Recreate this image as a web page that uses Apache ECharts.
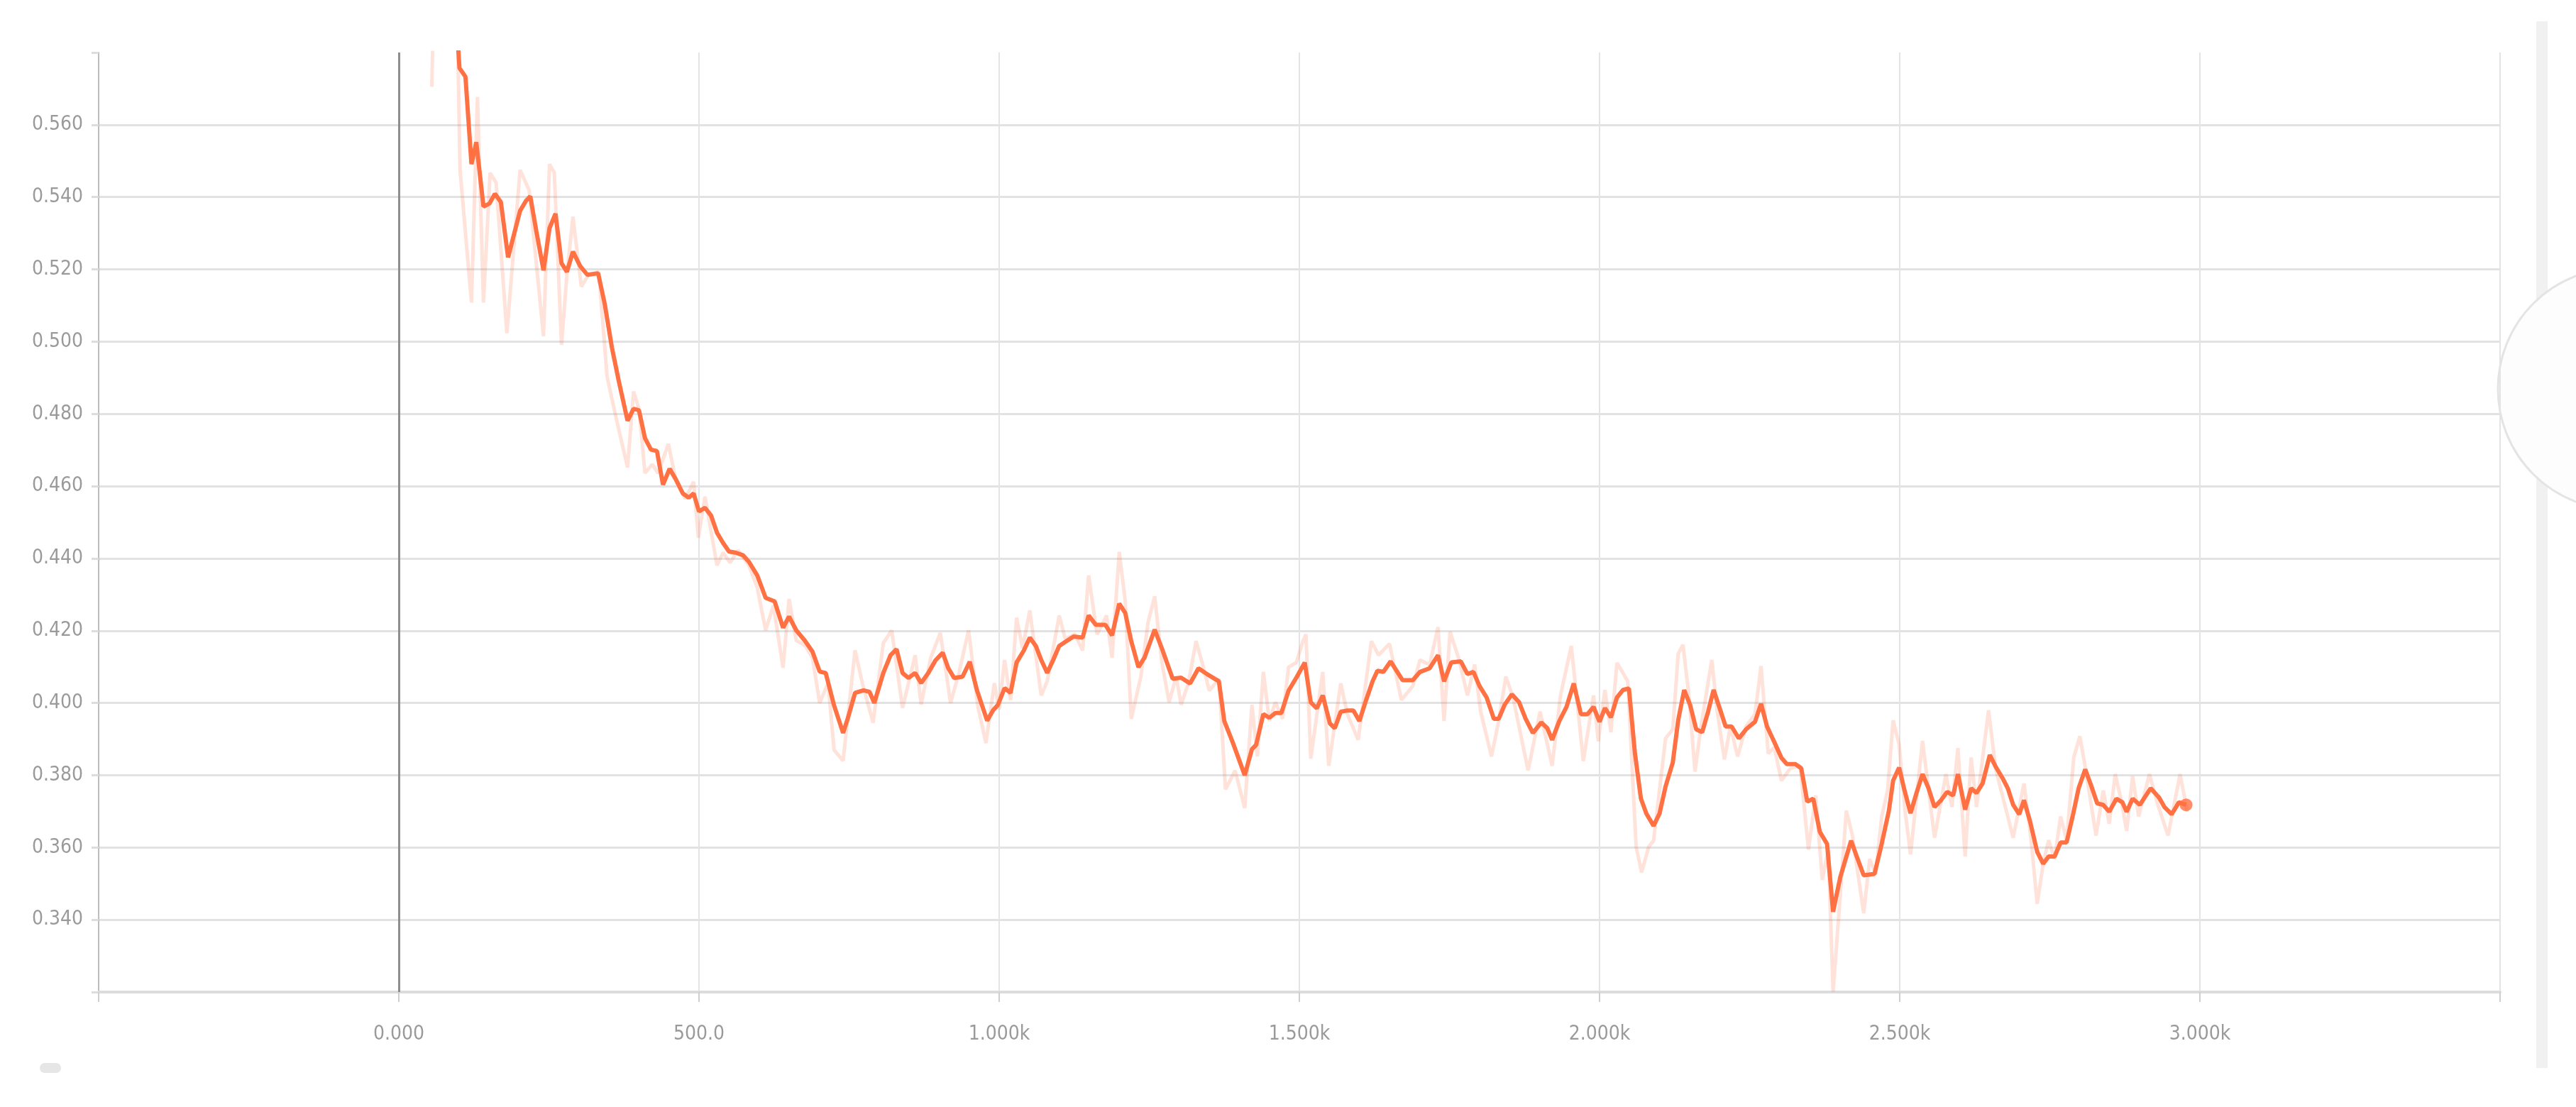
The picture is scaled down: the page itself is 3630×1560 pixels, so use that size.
<!DOCTYPE html>
<html>
<head>
<meta charset="utf-8">
<script src="https://cdn.jsdelivr.net/npm/echarts@6/dist/echarts.min.js"></script>
<style>
  html, body { margin: 0; padding: 0; background: #fff; }
  #chart { width: 3630px; height: 1560px; }
</style>
</head>
<body>
<div id="chart"></div>
<script>
// smoothed curve (dark orange)
const smoothSteps = [92, 101, 111, 121, 129, 141, 151, 160, 170, 182, 192, 202, 212, 219, 229, 241, 251, 261, 271, 280,
  290, 302, 314, 332, 343, 355, 367, 381, 391, 400, 410, 420, 430, 440, 451, 461, 473, 483, 491, 500,
  510, 520, 530, 540, 550, 561, 573, 583, 597, 611, 626, 640, 650, 662, 676, 689, 701, 711, 725, 740,
  748, 760, 774, 784, 792, 807, 819, 829, 839, 849, 860, 870, 882, 894, 906, 915, 925, 939, 951, 963,
  980, 990, 998, 1009, 1019, 1029, 1041, 1051, 1061, 1070, 1080, 1090, 1100, 1112, 1124, 1139, 1149, 1161, 1177, 1188,
  1200, 1210, 1220, 1232, 1242, 1259, 1271, 1289, 1303, 1318, 1332, 1346, 1366, 1375, 1389, 1409, 1421, 1428, 1440, 1450,
  1460, 1470, 1482, 1495, 1509, 1519, 1529, 1539, 1551, 1559, 1569, 1580, 1590, 1600, 1610, 1622, 1630, 1640, 1652, 1662,
  1672, 1689, 1701, 1717, 1731, 1741, 1753, 1769, 1780, 1790, 1800, 1812, 1824, 1832, 1842, 1854, 1866, 1877, 1889, 1903,
  1913, 1921, 1933, 1945, 1957, 1969, 1980, 1990, 2000, 2009, 2019, 2029, 2039, 2049, 2059, 2069, 2078, 2090, 2100, 2110,
  2122, 2131, 2141, 2151, 2161, 2171, 2181, 2190, 2200, 2210, 2220, 2232, 2244, 2259, 2269, 2279, 2293, 2303, 2312, 2326,
  2336, 2346, 2356, 2367, 2379, 2389, 2401, 2419, 2428, 2440, 2458, 2470, 2482, 2489, 2499, 2508, 2518, 2528, 2538, 2548,
  2558, 2569, 2579, 2589, 2597, 2609, 2619, 2628, 2638, 2650, 2660, 2672, 2680, 2689, 2699, 2707, 2717, 2729, 2739, 2748,
  2758, 2768, 2778, 2788, 2798, 2809, 2819, 2829, 2839, 2849, 2861, 2871, 2878, 2888, 2900, 2918, 2932, 2941, 2953, 2965,
  2977];
const smoothValues = [0.600, 0.5757, 0.5733, 0.5491, 0.5552, 0.5374, 0.5382, 0.5409, 0.5386, 0.5233, 0.5298, 0.5362, 0.5390, 0.5402, 0.5306, 0.5197, 0.5314, 0.5354, 0.5217, 0.5193,
  0.5249, 0.5209, 0.5185, 0.5189, 0.5104, 0.4983, 0.4886, 0.4781, 0.4814, 0.4810, 0.4733, 0.4701, 0.4697, 0.4604, 0.4648, 0.4620, 0.4580, 0.4568, 0.4580, 0.4530,
  0.4540, 0.4519, 0.4471, 0.4443, 0.4419, 0.4416, 0.4409, 0.4391, 0.4353, 0.4291, 0.4281, 0.4208, 0.4239, 0.4201, 0.4173, 0.4142, 0.4087, 0.4083, 0.3993, 0.3917,
  0.3958, 0.4028, 0.4035, 0.4031, 0.4000, 0.4083, 0.4132, 0.4149, 0.4083, 0.4069, 0.4083, 0.4055, 0.4083, 0.4118, 0.4139, 0.4097, 0.4069, 0.4073, 0.4114, 0.4035,
  0.3951, 0.3980, 0.3995, 0.4041, 0.4028, 0.4112, 0.4145, 0.4181, 0.4158, 0.4119, 0.4083, 0.4119, 0.4158, 0.4171, 0.4184, 0.4181, 0.4242, 0.4216, 0.4216, 0.4187,
  0.4275, 0.4249, 0.4171, 0.4099, 0.4125, 0.4203, 0.4151, 0.4067, 0.4070, 0.4054, 0.4096, 0.4080, 0.4060, 0.3950, 0.3891, 0.3800, 0.3872, 0.3884, 0.3969, 0.3959,
  0.3972, 0.3972, 0.4034, 0.4070, 0.4112, 0.4002, 0.3985, 0.4021, 0.3943, 0.3930, 0.3976, 0.3979, 0.3979, 0.3950, 0.4002, 0.4060, 0.4089, 0.4086, 0.4115, 0.4089,
  0.4063, 0.4063, 0.4086, 0.4096, 0.4132, 0.4060, 0.4112, 0.4115, 0.4080, 0.4086, 0.4047, 0.4015, 0.3956, 0.3956, 0.3995, 0.4024, 0.4002, 0.3956, 0.3917, 0.3946,
  0.3930, 0.3898, 0.3950, 0.3989, 0.4054, 0.3969, 0.3969, 0.3989, 0.3948, 0.3986, 0.3960, 0.4015, 0.4036, 0.4040, 0.3860, 0.3735, 0.3694, 0.3660, 0.3694, 0.3769,
  0.3835, 0.3952, 0.4036, 0.3994, 0.3927, 0.3919, 0.3977, 0.4036, 0.3986, 0.3935, 0.3935, 0.3902, 0.3927, 0.3948, 0.3998, 0.3935, 0.3885, 0.3848, 0.3831, 0.3831,
  0.3819, 0.3727, 0.3735, 0.3643, 0.3610, 0.3422, 0.3518, 0.3619, 0.3577, 0.3523, 0.3527, 0.3610, 0.3702, 0.3785, 0.3821, 0.3758, 0.3695, 0.3751, 0.3803, 0.3764,
  0.3712, 0.3731, 0.3754, 0.3744, 0.3803, 0.3705, 0.3764, 0.3751, 0.3777, 0.3856, 0.3823, 0.3790, 0.3764, 0.3718, 0.3692, 0.3731, 0.3673, 0.3588, 0.3555, 0.3575,
  0.3575, 0.3614, 0.3614, 0.3686, 0.3764, 0.3816, 0.3771, 0.3722, 0.3718, 0.3699, 0.3735, 0.3725, 0.3699, 0.3735, 0.3718, 0.3764, 0.3738, 0.3712, 0.3692, 0.3725,
  0.3718];

// raw curve (faint)
const rawSteps = [55, 60, 95, 102, 121, 131, 141, 152, 162, 180, 202, 217, 241, 251, 259, 271, 280, 290, 304, 316,
  333, 347, 363, 381, 391, 400, 410, 422, 432, 449, 461, 477, 491, 499, 510, 530, 540, 552, 565, 583,
  597, 611, 624, 640, 650, 662, 677, 689, 701, 715, 725, 740, 760, 772, 790, 807, 821, 839, 860, 870,
  886, 902, 919, 933, 949, 965, 978, 992, 1000, 1009, 1019, 1029, 1039, 1051, 1070, 1080, 1100, 1110, 1126, 1139,
  1149, 1163, 1179, 1188, 1200, 1210, 1220, 1236, 1248, 1259, 1271, 1283, 1295, 1303, 1315, 1328, 1338, 1350, 1366, 1377,
  1393, 1409, 1421, 1430, 1440, 1450, 1460, 1472, 1482, 1495, 1506, 1511, 1519, 1539, 1549, 1569, 1580, 1598, 1620, 1632,
  1650, 1670, 1689, 1701, 1717, 1731, 1741, 1751, 1765, 1780, 1792, 1802, 1820, 1832, 1844, 1856, 1881, 1901, 1921, 1935,
  1953, 1973, 1990, 1998, 2009, 2019, 2029, 2047, 2061, 2070, 2082, 2090, 2110, 2122, 2131, 2139, 2149, 2159, 2169, 2187,
  2196, 2208, 2218, 2230, 2244, 2259, 2269, 2281, 2291, 2303, 2318, 2334, 2348, 2360, 2371, 2381, 2389, 2401, 2411, 2421,
  2440, 2450, 2460, 2470, 2480, 2489, 2499, 2509, 2518, 2538, 2558, 2577, 2587, 2597, 2609, 2619, 2628, 2648, 2660, 2672,
  2689, 2707, 2719, 2729, 2739, 2748, 2758, 2768, 2778, 2790, 2800, 2809, 2827, 2839, 2849, 2859, 2869, 2878, 2888, 2898,
  2916, 2930, 2947, 2967, 2979];
const rawValues = [0.5705, 0.610, 0.610, 0.5475, 0.5108, 0.5677, 0.5108, 0.5467, 0.5440, 0.5023, 0.5475, 0.5419, 0.5015, 0.5491, 0.5467, 0.4991, 0.5185, 0.5346, 0.5152, 0.5185,
  0.5193, 0.4902, 0.4781, 0.4652, 0.4862, 0.4814, 0.4636, 0.4660, 0.4636, 0.4717, 0.4620, 0.4565, 0.4612, 0.4457, 0.4571, 0.4381, 0.4416, 0.4388, 0.4423, 0.4381,
  0.4319, 0.4201, 0.4270, 0.4097, 0.4288, 0.4173, 0.4159, 0.4125, 0.4000, 0.4055, 0.3870, 0.3840, 0.4146, 0.4055, 0.3945, 0.4166, 0.4201, 0.3986, 0.4132, 0.3996,
  0.4125, 0.4194, 0.4000, 0.4083, 0.4201, 0.3986, 0.3889, 0.4055, 0.3982, 0.4119, 0.4008, 0.4236, 0.4151, 0.4256, 0.4021, 0.4060, 0.4242, 0.4177, 0.4190, 0.4145,
  0.4353, 0.4190, 0.4242, 0.4125, 0.4418, 0.4282, 0.3956, 0.4073, 0.4223, 0.4295, 0.4112, 0.4002, 0.4073, 0.3995, 0.4054, 0.4171, 0.4112, 0.4034, 0.4067, 0.3761,
  0.3813, 0.3709, 0.3995, 0.3852, 0.4086, 0.3950, 0.4002, 0.3956, 0.4099, 0.4112, 0.4171, 0.4190, 0.3846, 0.4086, 0.3826, 0.4054, 0.3969, 0.3898, 0.4171, 0.4132,
  0.4164, 0.4008, 0.4047, 0.4119, 0.4106, 0.4210, 0.3950, 0.4197, 0.4125, 0.4021, 0.4106, 0.3976, 0.3852, 0.3950, 0.4073, 0.4015, 0.3813, 0.3976, 0.3826, 0.4021,
  0.4158, 0.3839, 0.4021, 0.3894, 0.4036, 0.3919, 0.4111, 0.4060, 0.3602, 0.3531, 0.3602, 0.3619, 0.3902, 0.3927, 0.4136, 0.4161, 0.4019, 0.3810, 0.3935, 0.4119,
  0.3977, 0.3844, 0.3935, 0.3852, 0.3935, 0.3969, 0.4102, 0.3860, 0.3877, 0.3785, 0.3819, 0.3827, 0.3594, 0.3744, 0.3510, 0.3594, 0.3201, 0.3468, 0.3702, 0.3635,
  0.3418, 0.3568, 0.3527, 0.3685, 0.3760, 0.3952, 0.3885, 0.3700, 0.3581, 0.3895, 0.3627, 0.3803, 0.3712, 0.3875, 0.3575, 0.3849, 0.3712, 0.3980, 0.3816, 0.3738,
  0.3627, 0.3777, 0.3620, 0.3444, 0.3555, 0.3620, 0.3568, 0.3686, 0.3620, 0.3849, 0.3908, 0.3823, 0.3633, 0.3758, 0.3666, 0.3803, 0.3731, 0.3646, 0.3797, 0.3686,
  0.3803, 0.3718, 0.3633, 0.3803, 0.3699];

// tick labels
const xTickValues = [0, 500, 1000, 1500, 2000, 2500, 3000];
const xTickLabels = ['0.000', '500.0', '1.000k', '1.500k', '2.000k', '2.500k', '3.000k'];
const yTickValues = [0.34, 0.36, 0.38, 0.40, 0.42, 0.44, 0.46, 0.48, 0.50, 0.52, 0.54, 0.56];
const yTickLabels = ['0.340', '0.360', '0.380', '0.400', '0.420', '0.440', '0.460', '0.480', '0.500', '0.520', '0.540', '0.560'];

const zip = (xs, ys) => xs.map((x, i) => [x, ys[i]]);
const pick = (vals, labels) => v => {
  const i = vals.findIndex(t => Math.abs(t - v) < 1e-6);
  return i < 0 ? '' : labels[i];
};

const labelFont = '"Liberation Sans Narrow", "DejaVu Sans Condensed", Roboto, sans-serif';
const orange = '#ff7043';

const chart = echarts.init(document.getElementById('chart'));
chart.setOption({
  animation: false,
  backgroundColor: '#fff',
  grid: { left: 139, right: 107, top: 74, bottom: 162 },
  xAxis: {
    type: 'value', min: -500, max: 3500, interval: 500,
    axisLine: { show: true, lineStyle: { color: '#dcdcdc', width: 4 } },
    axisTick: { show: true, length: 14, lineStyle: { color: '#cfcfcf', width: 2 } },
    axisLabel: { margin: 46, fontSize: 28, color: '#9a9a9a', fontFamily: labelFont, formatter: pick(xTickValues, xTickLabels) },
    splitLine: { show: true, lineStyle: { color: '#e4e4e4', width: 2 } }
  },
  yAxis: {
    type: 'value', min: 0.32, max: 0.58, interval: 0.02,
    axisLine: { show: true, onZero: false, lineStyle: { color: '#bdbdbd', width: 2 } },
    axisTick: { show: true, length: 10, lineStyle: { color: '#dddddd', width: 3 } },
    axisLabel: { margin: 22, fontSize: 28, color: '#9a9a9a', fontFamily: labelFont, formatter: pick(yTickValues, yTickLabels) },
    splitLine: { show: true, showMaxLine: false, lineStyle: { color: '#e2e2e2', width: 3 } }
  },
  series: [
    {
      name: 'raw', type: 'line', data: zip(rawSteps, rawValues),
      symbol: 'none', clip: true, silent: true,
      lineStyle: { color: orange, width: 5, opacity: 0.2 },
      markLine: {
        silent: true, symbol: ['none', 'none'], label: { show: false },
        lineStyle: { color: '#8e8e8e', width: 3, type: 'solid' },
        data: [{ xAxis: 0 }]
      }
    },
    {
      name: 'smoothed', type: 'line', data: zip(smoothSteps, smoothValues),
      symbol: 'none', clip: true, silent: true,
      lineStyle: { color: orange, width: 6 }
    },
    {
      name: 'last', type: 'scatter', silent: true,
      data: [[smoothSteps[smoothSteps.length - 1], smoothValues[smoothValues.length - 1]]],
      symbol: 'circle', symbolSize: 18, itemStyle: { color: orange }
    }
  ],
  graphic: [
    { type: 'rect', shape: { x: 3574, y: 30, width: 16, height: 1475 }, style: { fill: '#f1f1f1' }, silent: true },
    { type: 'circle', shape: { cx: 3690, cy: 548, r: 170 }, style: { fill: '#fdfdfd', stroke: '#e4e4e4', lineWidth: 3 }, silent: true },
    { type: 'rect', shape: { x: 56, y: 1498, width: 30, height: 14, r: 7 }, style: { fill: '#e6e6e6' }, silent: true }
  ]
});
</script>
</body>
</html>
